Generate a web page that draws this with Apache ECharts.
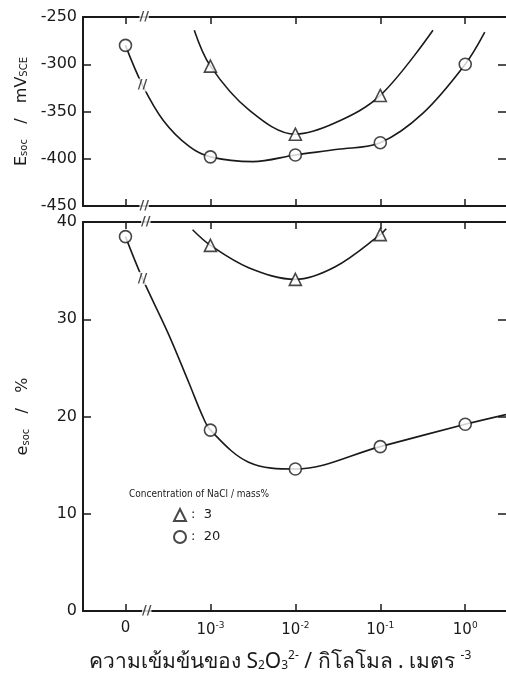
<!DOCTYPE html>
<html>
<head>
<meta charset="utf-8">
<script src="https://cdn.jsdelivr.net/npm/echarts@6/dist/echarts.min.js"></script>
<style>html,body{margin:0;padding:0;background:#fff}#c{width:506px;height:683px}</style>
</head>
<body>
<div id="c"></div>
<script>
// ---- data ----
const categories = ['0', '10^-3', '10^-2', '10^-1', '10^0'];
const xTickLabels = ['0', '10{sup|-3}', '10{sup|-2}', '10{sup|-1}', '10{sup|0}'];
const potTicks = [-250, -300, -350, -400, -450];
const socTicks = [0, 10, 20, 30, 40];

// E_soc (mV vs SCE) measured points
const ePot3 = [null, -302, -374, -333, null];
const ePot20 = [-280, -398, -396, -383, -300];
// e_soc (%) measured points
const eSoc3 = [null, 37.6, 34.1, 38.7, null];
const eSoc20 = [38.5, 18.6, 14.6, 16.9, 19.2];

// hand-drawn fitted curves (x = category position)
const ePot3Curve = [[0.81, -264], [1, -302], [1.45, -348], [2, -374], [2.47, -362], [3, -333], [3.62, -264]];
const ePot20Curve = [[0, -280], [0.2, -322], [0.45, -360], [0.75, -387], [1, -398], [1.5, -403], [2, -396], [2.5, -390], [3, -383], [3.5, -352], [4, -300], [4.23, -266]];
const eSoc3Curve = [[0.79, 39.2], [1, 37.6], [1.45, 35.3], [2, 34.1], [2.47, 35.4], [3, 38.7], [3.07, 39.3]];
const eSoc20Curve = [[0, 38.5], [0.2, 34.2], [0.5, 28.6], [0.75, 23.4], [0.9, 20.2], [1, 18.6], [1.45, 15.3], [2, 14.6], [3, 16.9], [4, 19.2], [4.48, 20.2]];

// axis-break marks
const potBreaks = [[0.22, -250], [0.22, -450], [0.2, -322]];
const socBreaks = [[0.24, 40], [0.25, 0], [0.2, 34.2]];

const legendNames = ['3', '20'];

// ---- chart ----
const INK = '#1a1a1a';
const FONT = 'DejaVu Sans';
const chart = echarts.init(document.getElementById('c'), null, {renderer: 'canvas'});

const tickVals = [0, 1, 2, 3, 4];
function xAx(gridIndex, position, showLabels) {
  return {
    type: 'value', gridIndex, position, min: -0.5, max: 4.48,
    axisLine: {show: true, onZero: false, lineStyle: {color: INK, width: 2}},
    axisTick: {show: true, inside: true, length: 7, customValues: tickVals, lineStyle: {color: INK, width: 1.5}},
    axisLabel: showLabels ? {
      show: true, customValues: tickVals, margin: 10,
      formatter: v => xTickLabels[Math.round(v)],
      color: INK, fontFamily: FONT, fontSize: 15,
      rich: {sup: {fontSize: 9, padding: [0, 0, 9, 0], color: INK, fontFamily: FONT}}
    } : {show: false},
    splitLine: {show: false}
  };
}
function yAx(gridIndex, position, min, max, interval, showLabels, name) {
  const o = {
    type: 'value', gridIndex, position, min, max, interval,
    axisLine: {show: position === 'left', onZero: false, lineStyle: {color: INK, width: 2}},
    axisTick: {show: true, inside: true, length: 8, lineStyle: {color: INK, width: 1.5}},
    axisLabel: {show: showLabels, color: INK, fontFamily: FONT, fontSize: 16, margin: 6,
      formatter: v => String(v).replace('\u2212', '-')},
    splitLine: {show: false}
  };
  if (name) {
    o.name = name;
    o.nameLocation = 'middle';
    o.nameRotate = 90;
    o.nameGap = 52;
    o.nameTextStyle = {color: INK, fontFamily: FONT, fontSize: 16,
      rich: {sub: {fontSize: 10, padding: [0, 0, -6, 0], color: INK, fontFamily: FONT}}};
  }
  return o;
}

const pt = (arr) => arr.map((v, i) => v == null ? null : [i, v]).filter(Boolean);

const markerStyle = {color: '#fff', borderColor: INK, borderWidth: 1.6};
function curve(xi, yi, data) {
  return {type: 'line', xAxisIndex: xi, yAxisIndex: yi, data, smooth: 0.35, showSymbol: false,
    symbol: 'none', lineStyle: {color: INK, width: 1.6}, silent: true, z: 2};
}
function marks(name, xi, yi, data, symbol) {
  return {name, type: 'scatter', xAxisIndex: xi, yAxisIndex: yi, data, symbol,
    symbolSize: 12, itemStyle: markerStyle, z: 4};
}
function breaks(xi, yi, data) {
  return {type: 'scatter', xAxisIndex: xi, yAxisIndex: yi, data, symbol: 'circle', symbolSize: 0,
    silent: true, z: 5,
    label: {show: true, position: 'inside', formatter: '//', color: INK, fontFamily: FONT,
      fontSize: 13, fontWeight: 'bold', backgroundColor: '#fff', padding: [0, 0]}};
}

const option = {
  backgroundColor: '#fff',
  animation: false,
  textStyle: {fontFamily: FONT},
  title: [
    {text: 'ความเข้มข้นของ S{sub|2}O{sub|3}{sup|2-} / กิโลโมล . เมตร {sup|-3}', left: 84, top: 645,
      textStyle: {color: INK, fontFamily: 'Noto Sans, sans-serif', fontSize: 21, fontWeight: 'normal',
        rich: {
          sub: {fontSize: 12, padding: [0, 0, -8, 0], color: INK},
          sup: {fontSize: 12, padding: [0, 0, 12, 0], color: INK}
        }}},
    {text: 'Concentration of NaCl / mass%', left: 124, top: 484,
      textStyle: {color: INK, fontFamily: 'DejaVu Sans Condensed, DejaVu Sans', fontSize: 10, fontWeight: 'normal'}}
  ],
  legend: {
    data: legendNames, orient: 'vertical', left: 168, top: 503, itemGap: 8,
    itemWidth: 12, itemHeight: 12, formatter: n => ':  ' + n,
    textStyle: {color: INK, fontFamily: FONT, fontSize: 13},
    selectedMode: false
  },
  grid: [
    {left: 83, top: 17, width: 425, height: 189},
    {left: 83, top: 222, width: 425, height: 389}
  ],
  xAxis: [xAx(0, 'bottom', false), xAx(0, 'top', false), xAx(1, 'bottom', true), xAx(1, 'top', false)],
  yAxis: [
    yAx(0, 'left', -450, -250, 50, true, 'E{sub|soc}   /   mV{sub|SCE}'),
    yAx(0, 'right', -450, -250, 50, false),
    yAx(1, 'left', 0, 40, 10, true, 'e{sub|soc}   /   %'),
    yAx(1, 'right', 0, 40, 10, false)
  ],
  series: [
    curve(0, 0, ePot3Curve),
    curve(0, 0, ePot20Curve),
    curve(2, 2, eSoc3Curve),
    curve(2, 2, eSoc20Curve),
    marks('3', 0, 0, pt(ePot3), 'triangle'),
    marks('20', 0, 0, pt(ePot20), 'circle'),
    marks('3', 2, 2, pt(eSoc3), 'triangle'),
    marks('20', 2, 2, pt(eSoc20), 'circle'),
    breaks(0, 0, potBreaks),
    breaks(2, 2, socBreaks)
  ]
};
chart.setOption(option);
</script>
</body>
</html>
